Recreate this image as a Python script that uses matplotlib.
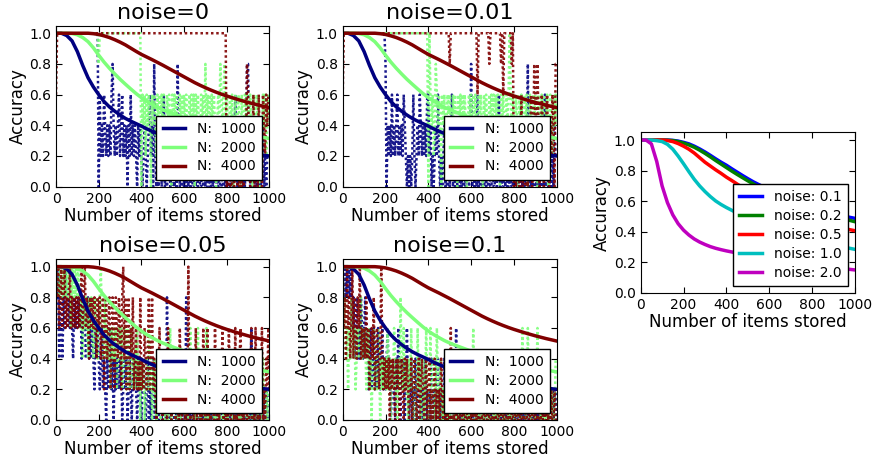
import matplotlib
matplotlib.use('Agg')
import matplotlib.pyplot as plt
import numpy as np

# Colours (jet colormap at 0, 0.5, 1 for N = 1000, 2000, 4000)
N_COLORS = [(0.0, 0.0, 0.5), (0.49, 1.0, 0.48), (0.5, 0.0, 0.0)]
NOISE_COLORS = ['b', 'g', 'r', 'c', 'm']

N_VALUES = [1000, 2000, 4000]
NOISE_TITLES = ['noise=0', 'noise=0.01', 'noise=0.05', 'noise=0.1']
NOISE_LEVELS = ['0.1', '0.2', '0.5', '1.0', '2.0']

# x positions of the measured (noisy) curves and of the theory curves
items_measured = list(range(0, 1001, 5))
items_theory = list(range(0, 1001, 25))

# Theory curves, same in all four left panels
theory_n1000 = [1.0, 1.0, 0.985, 0.95, 0.88, 0.79, 0.71, 0.65, 0.6, 0.555, 0.52,
                0.492, 0.467, 0.445, 0.427, 0.411, 0.395, 0.377, 0.361, 0.347, 0.335,
                0.325, 0.315, 0.305, 0.295, 0.287, 0.279, 0.272, 0.265, 0.258, 0.252,
                0.246, 0.24, 0.234, 0.229, 0.224, 0.219, 0.214, 0.209, 0.204, 0.2]
theory_n2000 = [1.0, 1.0, 1.0, 0.998, 0.99, 0.972, 0.945, 0.905, 0.857, 0.812, 0.772,
                0.735, 0.7, 0.668, 0.637, 0.607, 0.58, 0.557, 0.537, 0.518, 0.502,
                0.488, 0.475, 0.462, 0.45, 0.439, 0.428, 0.418, 0.408, 0.398, 0.389,
                0.38, 0.372, 0.364, 0.356, 0.348, 0.341, 0.334, 0.327, 0.32, 0.314]
theory_n4000 = [1.0, 1.0, 1.0, 1.0, 1.0, 1.0, 1.0, 0.997, 0.992, 0.983, 0.972,
                0.958, 0.942, 0.924, 0.903, 0.882, 0.862, 0.845, 0.828, 0.81, 0.792,
                0.773, 0.754, 0.735, 0.716, 0.697, 0.678, 0.661, 0.645, 0.63, 0.616,
                0.603, 0.591, 0.58, 0.569, 0.559, 0.549, 0.54, 0.531, 0.523, 0.515]

# Right panel: accuracy for different noise levels
acc_noise_01 = [1.0, 1.0, 1.0, 1.0, 1.0, 1.0, 0.998, 0.993, 0.985, 0.975, 0.96,
                0.942, 0.922, 0.9, 0.877, 0.855, 0.835, 0.812, 0.79, 0.768, 0.747,
                0.727, 0.709, 0.692, 0.675, 0.658, 0.641, 0.625, 0.61, 0.596, 0.583,
                0.571, 0.56, 0.549, 0.538, 0.528, 0.518, 0.51, 0.502, 0.494, 0.487]
acc_noise_02 = [1.0, 1.0, 1.0, 1.0, 1.0, 0.999, 0.996, 0.99, 0.98, 0.968, 0.953,
                0.934, 0.913, 0.89, 0.866, 0.843, 0.82, 0.797, 0.775, 0.754, 0.733,
                0.713, 0.694, 0.676, 0.658, 0.641, 0.625, 0.61, 0.595, 0.581, 0.568,
                0.556, 0.544, 0.533, 0.522, 0.512, 0.502, 0.492, 0.483, 0.474, 0.465]
acc_noise_05 = [1.0, 1.0, 1.0, 1.0, 1.0, 0.997, 0.99, 0.977, 0.96, 0.94, 0.915,
                0.885, 0.855, 0.83, 0.805, 0.782, 0.757, 0.735, 0.712, 0.69, 0.67,
                0.65, 0.631, 0.612, 0.594, 0.577, 0.561, 0.545, 0.53, 0.516, 0.503,
                0.49, 0.478, 0.467, 0.456, 0.446, 0.437, 0.428, 0.42, 0.413, 0.406]
acc_noise_10 = [1.0, 1.0, 1.0, 0.996, 0.99, 0.972, 0.94, 0.895, 0.845, 0.793, 0.743,
                0.7, 0.663, 0.63, 0.601, 0.578, 0.558, 0.54, 0.522, 0.506, 0.49,
                0.475, 0.461, 0.447, 0.434, 0.421, 0.409, 0.398, 0.387, 0.377, 0.367,
                0.357, 0.348, 0.339, 0.331, 0.323, 0.315, 0.307, 0.299, 0.291, 0.284]
acc_noise_20 = [1.0, 1.0, 0.975, 0.86, 0.7, 0.59, 0.51, 0.452, 0.41, 0.378, 0.352,
                0.332, 0.316, 0.302, 0.291, 0.282, 0.274, 0.267, 0.26, 0.253, 0.246,
                0.24, 0.234, 0.228, 0.222, 0.217, 0.212, 0.207, 0.202, 0.197, 0.192,
                0.187, 0.183, 0.178, 0.174, 0.17, 0.165, 0.161, 0.157, 0.153, 0.149]

# Measured accuracy in fifths (5 test items), one value every 5 items stored,
# one row per 100 items
# noise = 0
meas0_n1000 = [5,5,5,5,5,5,5,5,5,5,5,5,5,5,5,5,5,5,5,5,
               5,5,5,5,5,5,5,5,5,5,5,5,5,5,5,5,5,5,5,5,
               0,3,1,2,1,3,2,1,2,1,2,1,3,4,2,1,2,1,2,3,
               1,2,3,1,2,1,2,0,2,1,3,1,2,1,2,1,0,2,1,2,
               1,0,1,2,1,0,1,2,3,1,2,0,4,1,0,1,0,1,2,0,
               1,3,0,1,0,1,2,0,1,0,1,0,1,0,4,1,0,1,0,1,
               0,1,0,2,0,1,0,1,0,0,1,0,2,0,1,0,0,1,0,1,
               0,1,0,0,1,0,2,0,1,0,0,1,0,1,0,0,1,0,2,0,
               1,0,1,0,0,1,0,1,3,1,0,1,0,0,1,0,2,0,1,4,
               4,1,0,1,0,0,1,0,1,0,0,1,0,1,2,0,1,0,1,1,
               1]
meas0_n2000 = [5,5,5,5,5,5,5,5,5,5,5,5,5,5,5,5,5,5,5,5,
               5,5,5,5,5,5,5,5,5,5,5,5,5,5,5,5,5,5,5,5,
               4,5,5,5,5,5,5,5,5,5,5,5,5,5,5,5,5,5,5,5,
               5,5,5,5,5,5,5,5,5,5,5,5,5,5,5,5,5,5,5,5,
               0,3,2,3,1,3,2,3,2,0,3,2,3,2,1,3,2,3,2,3,
               2,3,2,1,3,2,3,2,0,3,2,3,2,3,1,2,3,2,3,2,
               3,2,3,2,1,3,2,3,2,3,0,3,2,3,2,1,3,2,3,2,
               4,2,3,2,3,1,3,2,3,2,0,2,3,2,4,3,2,3,4,2,
               3,2,1,3,2,3,0,2,3,1,2,3,2,0,3,2,1,3,2,3,
               2,1,3,2,0,3,2,1,3,2,3,0,2,1,3,2,3,1,2,3,
               3]
meas0_n4000 = [3,5,5,5,5,5,5,5,5,5,5,5,5,5,5,5,5,5,5,5,
               5,5,5,5,5,5,5,5,5,5,5,5,5,5,5,5,5,5,5,5,
               5,5,5,5,5,5,5,5,5,5,5,5,5,5,5,5,5,5,5,5,
               5,5,5,5,5,5,5,5,5,5,5,5,5,5,5,5,5,5,5,5,
               5,5,5,5,5,5,5,5,5,5,5,5,5,5,5,5,5,5,5,5,
               5,5,5,5,5,5,5,5,5,5,5,5,5,5,5,5,5,5,5,5,
               5,5,5,5,5,5,5,5,5,5,5,5,5,5,5,5,5,5,5,5,
               5,5,5,5,5,5,5,5,5,5,5,5,5,5,5,5,5,5,5,5,
               0,1,0,1,0,0,1,0,1,2,0,1,0,1,0,1,0,2,1,4,
               3,1,0,2,1,3,0,1,2,0,3,1,2,0,3,2,1,3,2,3,
               3]

# noise = 0.01
meas1_n1000 = [5,5,5,5,5,5,5,5,5,5,5,5,5,5,5,5,5,5,5,5,
               5,5,5,5,5,5,5,5,5,5,5,5,5,5,5,5,5,5,5,5,
               4,0,2,1,2,1,3,1,2,1,2,3,1,2,1,2,1,3,2,1,
               0,1,0,1,0,1,3,1,0,1,2,1,3,2,1,2,1,2,1,3,
               3,1,2,0,1,0,1,2,1,3,1,0,1,0,1,2,0,1,0,1,
               0,1,3,0,1,0,1,0,2,0,1,0,1,0,1,0,2,1,0,1,
               4,0,1,0,1,0,3,0,1,0,0,1,0,1,0,2,0,1,0,0,
               1,0,0,1,0,1,3,0,1,0,0,1,0,2,0,1,0,0,1,0,
               1,0,1,0,0,1,0,2,0,1,0,0,1,4,0,1,0,1,0,0,
               1,0,2,0,1,0,0,1,0,3,0,1,0,0,1,0,1,0,2,1,
               1]
meas1_n2000 = [5,5,5,5,5,5,5,5,5,5,5,5,5,5,5,5,5,5,5,5,
               5,5,5,5,5,5,5,5,5,5,5,5,5,5,5,5,5,5,5,5,
               5,5,5,5,5,5,5,5,5,5,5,5,5,5,5,5,5,5,5,5,
               5,5,5,5,5,5,5,5,5,5,5,5,5,5,5,5,5,5,5,5,
               0,5,3,2,3,1,2,4,3,2,3,2,0,3,2,3,1,2,3,2,
               3,2,1,3,2,3,2,0,3,2,3,1,3,2,3,2,0,2,3,2,
               3,1,3,2,3,2,1,3,2,3,2,0,3,2,3,2,1,3,2,3,
               2,3,1,3,2,3,2,0,3,2,3,2,1,3,2,3,5,3,2,3,
               2,1,3,2,0,3,2,3,1,2,3,2,3,0,2,3,2,1,3,2,
               3,2,0,3,2,1,3,2,3,1,2,3,0,2,3,2,1,3,2,3,
               2]
meas1_n4000 = [3,5,5,5,5,5,5,5,5,5,5,5,5,5,5,5,5,5,5,5,
               5,5,5,5,5,5,5,5,5,5,5,5,5,5,5,5,5,5,5,5,
               5,5,5,5,5,5,5,5,5,5,5,5,5,5,5,5,5,5,5,5,
               5,5,5,5,5,5,5,5,5,5,5,5,5,5,5,5,5,5,5,5,
               5,5,5,5,5,5,5,5,5,5,5,5,5,5,5,5,5,5,5,5,
               4,5,5,5,5,5,5,5,5,5,5,5,5,5,5,5,5,5,5,5,
               5,5,5,5,5,5,3,5,5,5,5,5,5,5,5,5,5,4,5,5,
               5,5,5,5,5,5,5,5,4,5,3,5,5,5,5,5,5,5,4,5,
               0,1,0,2,1,0,1,3,0,1,2,0,1,0,2,1,3,0,1,4,
               3,1,4,2,0,1,3,2,0,1,2,3,1,0,2,1,3,2,0,4,
               4]

# noise = 0.05
meas2_n1000 = [5,5,4,2,5,3,2,4,3,5,4,3,4,3,4,3,2,4,3,4,
               3,4,3,4,2,3,4,3,2,3,4,2,3,2,3,2,1,3,2,3,
               2,1,2,3,1,2,1,0,2,1,2,3,1,2,0,2,1,2,1,2,
               1,2,0,1,2,1,2,0,1,2,1,0,2,1,2,1,0,1,2,1,
               0,1,2,1,0,1,2,0,1,0,1,2,0,1,0,1,0,2,1,0,
               1,0,1,0,4,1,0,1,0,2,1,0,1,0,1,0,2,0,1,0,
               1,0,4,0,1,0,1,0,2,0,1,0,1,0,0,1,0,2,0,1,
               0,1,0,0,1,0,2,0,1,0,0,1,0,1,0,0,1,0,1,0,
               1,0,1,0,0,2,0,1,0,0,1,0,1,0,2,0,1,0,0,1,
               0,1,0,3,0,1,0,0,1,0,2,0,1,0,0,1,0,1,0,1,
               1]
meas2_n2000 = [5,4,5,4,5,4,5,4,5,4,5,4,5,4,3,5,4,5,4,5,
               4,5,4,3,4,2,4,3,4,3,2,4,3,4,3,2,3,4,3,2,
               3,4,5,3,2,3,4,2,3,2,3,1,3,2,3,2,3,1,2,3,
               2,3,1,2,3,2,1,3,2,1,2,3,1,2,1,2,3,1,2,0,
               2,1,2,0,1,2,1,3,1,2,0,1,2,1,0,1,2,1,0,1,
               2,1,0,1,2,0,1,3,0,1,2,1,0,1,0,2,1,0,1,2,
               1,0,2,1,0,1,3,0,1,2,0,1,0,3,1,0,1,2,0,1,
               0,3,1,0,1,0,2,1,0,1,0,1,2,0,1,0,1,0,1,0,
               1,0,1,2,0,1,0,1,0,2,1,0,1,0,1,0,0,1,2,0,
               1,0,2,1,0,1,0,1,2,0,1,0,1,0,2,1,0,1,0,1,
               1]
meas2_n4000 = [5,4,5,3,4,5,3,4,5,3,4,3,4,5,3,4,3,4,3,4,
               3,4,3,4,5,3,4,5,3,4,3,2,4,3,4,3,4,3,2,4,
               3,4,2,3,4,1,3,4,2,3,4,1,2,4,3,1,4,3,2,4,
               3,1,4,5,2,4,1,3,4,1,3,2,4,1,2,3,1,2,1,4,
               1,2,1,3,2,1,2,4,1,2,4,1,2,1,0,2,1,3,1,2,
               0,1,2,1,0,3,1,2,0,1,2,1,0,1,2,0,3,1,0,1,
               2,0,1,0,5,1,0,2,1,0,1,3,0,1,2,0,1,0,3,1,
               0,1,3,0,1,0,2,1,0,3,1,0,1,0,2,1,3,0,1,0,
               1,0,3,1,0,2,1,0,3,0,1,0,2,3,0,1,0,2,1,0,
               2,0,1,3,0,1,0,3,1,0,2,0,1,3,0,1,0,2,1,3,
               1]

# noise = 0.1
meas3_n1000 = [5,4,5,4,5,4,5,4,5,3,4,2,3,4,2,3,2,4,3,2,
               3,4,2,3,1,2,3,1,2,3,1,2,1,3,2,1,2,3,1,2,
               1,2,3,1,2,0,1,2,1,0,2,1,3,1,0,2,1,2,0,1,
               3,1,0,1,2,0,1,0,2,1,0,1,2,0,1,0,1,2,0,1,
               0,1,0,2,1,0,1,0,1,2,0,1,0,1,0,2,0,1,0,1,
               0,1,0,2,0,1,3,0,1,0,1,0,2,0,1,0,0,1,0,1,
               0,1,0,0,1,0,1,0,2,0,1,0,0,1,0,1,0,0,1,0,
               1,0,0,1,0,1,0,2,0,0,1,0,1,0,0,1,0,1,0,0,
               1,0,1,0,0,1,0,1,0,2,0,1,0,0,1,0,1,0,0,1,
               0,1,0,0,1,0,2,0,1,0,0,1,0,1,0,0,1,0,1,0,
               1]
meas3_n2000 = [5,3,4,2,3,1,3,2,4,3,2,3,1,2,3,2,3,4,2,3,
               2,3,1,2,3,1,2,0,2,3,1,2,1,3,2,0,2,1,2,1,
               2,1,3,1,2,0,2,1,3,2,1,0,2,1,4,2,1,3,1,2,
               1,0,2,1,3,1,0,2,1,0,3,1,2,0,1,2,0,1,3,1,
               0,1,3,0,1,2,0,1,3,1,0,2,1,0,1,0,2,1,0,1,
               0,2,1,0,1,0,2,0,1,0,1,2,0,1,0,1,0,2,0,1,
               0,1,3,0,1,0,2,0,1,0,0,1,0,2,0,1,0,0,1,0,
               1,0,1,0,2,0,1,0,0,1,0,1,0,0,2,0,1,0,1,0,
               1,0,1,0,0,2,0,1,3,0,1,0,0,3,1,0,1,0,2,1,
               0,1,3,0,1,0,2,0,1,0,0,1,0,2,0,1,0,1,0,2,
               2]
meas3_n4000 = [5,3,4,2,5,3,4,2,3,5,2,4,3,2,4,3,5,2,3,2,
               3,2,4,2,3,1,2,3,2,4,1,2,3,2,1,2,5,2,1,2,
               1,2,1,2,0,2,1,2,1,0,2,1,2,0,1,2,1,0,2,1,
               2,1,0,1,2,0,1,2,1,0,1,2,0,1,2,1,0,1,2,0,
               1,2,0,1,0,1,2,0,1,0,1,0,2,1,0,1,0,1,0,1,
               0,3,0,1,0,1,0,2,0,1,0,0,1,0,1,0,0,1,0,1,
               0,1,0,0,1,0,1,0,0,1,0,1,0,0,1,0,1,0,0,1,
               0,0,1,0,1,0,0,1,0,1,0,0,1,0,0,1,0,1,0,0,
               1,0,0,1,0,1,0,0,1,0,1,0,0,1,0,0,1,0,1,0,
               0,1,0,1,0,0,1,0,1,0,0,1,0,1,0,1,0,0,1,0,
               0]

theory = [theory_n1000, theory_n2000, theory_n4000]
measured = [
    [meas0_n1000, meas0_n2000, meas0_n4000],
    [meas1_n1000, meas1_n2000, meas1_n4000],
    [meas2_n1000, meas2_n2000, meas2_n4000],
    [meas3_n1000, meas3_n2000, meas3_n4000],
]
noise_curves = [acc_noise_01, acc_noise_02, acc_noise_05, acc_noise_10, acc_noise_20]


def style_axes(ax):
    # old-style look: ticks inside on all four sides
    ax.set_xlim(0, 1000)
    ax.set_ylim(0, 1.05)
    ax.set_xticks([0, 200, 400, 600, 800, 1000])
    ax.set_yticks([0.0, 0.2, 0.4, 0.6, 0.8, 1.0])
    ax.tick_params(direction='in', top=True, right=True, labelsize=10, length=4)
    ax.set_xlabel('Number of items stored', fontsize=12, labelpad=1)
    ax.set_ylabel('Accuracy', fontsize=12, labelpad=2)


def legend(ax):
    leg = ax.legend(loc='lower right', fontsize=10, handlelength=1.6,
                    handletextpad=0.9, labelspacing=0.35, borderpad=0.45,
                    fancybox=False, framealpha=1.0, edgecolor='black')
    leg.get_frame().set_linewidth(1.0)


fig = plt.figure(figsize=(8.77, 4.63), dpi=100)

# Four left panels: measured (dotted) and theory (solid) for N = 1000/2000/4000
left_pos = [
    [0.0639, 0.5968, 0.2433, 0.3480],
    [0.3908, 0.5968, 0.2440, 0.3480],
    [0.0639, 0.0929, 0.2433, 0.3477],
    [0.3908, 0.0929, 0.2440, 0.3477],
]

for p in range(4):
    ax = fig.add_axes(left_pos[p])
    # measured curves first so the theory lines sit on top
    for k in range(3):
        vals = np.array(measured[p][k]) / 5.0
        ax.plot(items_measured, vals, color=N_COLORS[k], linestyle=(0, (1, 1.1)),
                linewidth=1.8, alpha=0.9)
    for k in range(3):
        ax.plot(items_theory, theory[k], color=N_COLORS[k], linewidth=2.5,
                label='N:  %d' % N_VALUES[k])
    ax.set_title(NOISE_TITLES[p], fontsize=16, pad=5)
    style_axes(ax)
    legend(ax)

# Right panel: accuracy for different noise levels
ax = fig.add_axes([0.7305, 0.3678, 0.2444, 0.3462])
for k in range(5):
    ax.plot(items_theory, noise_curves[k], color=NOISE_COLORS[k], linewidth=2.5,
            label='noise: ' + NOISE_LEVELS[k])
style_axes(ax)
legend(ax)

fig.savefig('out.png', dpi=100)
